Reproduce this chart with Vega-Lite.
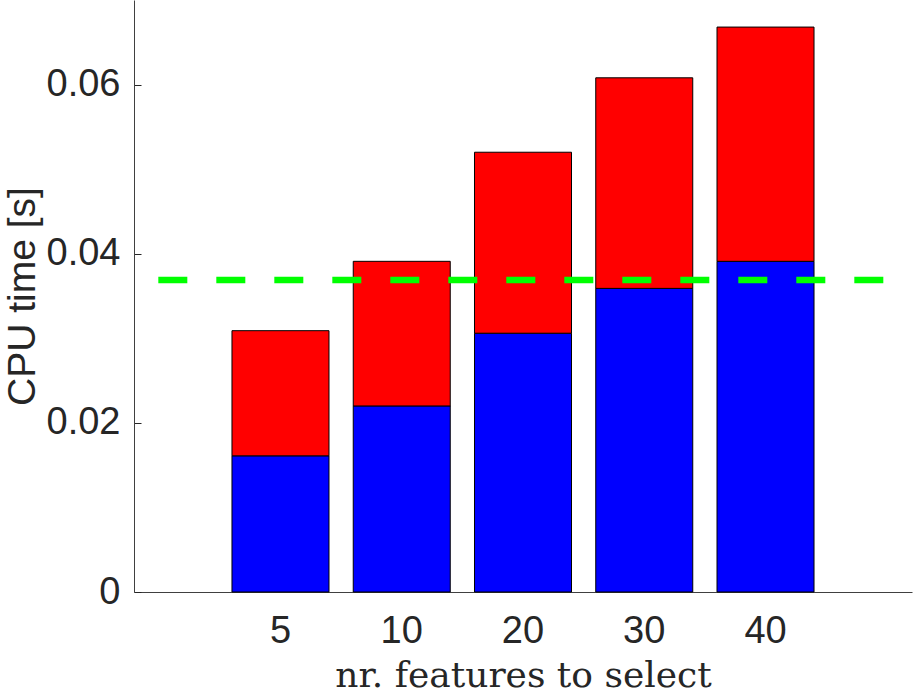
{
  "$schema": "https://vega.github.io/schema/vega-lite/v6.json",
  "width": 778,
  "height": 592,
  "autosize": {"type": "none"},
  "padding": {"left": 134, "top": 0, "right": 1, "bottom": 99},
  "background": "white",
  "config": {
    "view": {"stroke": null},
    "font": "Liberation Sans"
  },
  "layer": [
    {
      "data": {
        "values": [
          {"n": "5", "part": "a", "t": 0.0161},
          {"n": "5", "part": "b", "t": 0.0148},
          {"n": "10", "part": "a", "t": 0.0220},
          {"n": "10", "part": "b", "t": 0.0171},
          {"n": "20", "part": "a", "t": 0.0306},
          {"n": "20", "part": "b", "t": 0.0214},
          {"n": "30", "part": "a", "t": 0.0359},
          {"n": "30", "part": "b", "t": 0.0249},
          {"n": "40", "part": "a", "t": 0.0391},
          {"n": "40", "part": "b", "t": 0.0277}
        ]
      },
      "mark": {"type": "bar", "stroke": "black", "strokeWidth": 1},
      "encoding": {
        "x": {
          "field": "n",
          "type": "ordinal",
          "sort": ["5", "10", "20", "30", "40"],
          "scale": {"paddingInner": 0.2, "paddingOuter": 0.808},
          "axis": {
            "title": "nr. features to select",
            "titleFont": "DejaVu Serif",
            "titleFontSize": 36,
            "titleFontWeight": "normal",
            "titleColor": "#262626",
            "titleBaseline": "alphabetic",
            "titleY": 94,
            "labelAngle": 0,
            "labelFontSize": 38,
            "labelColor": "#262626",
            "labelBaseline": "alphabetic",
            "labelPadding": 50,
            "ticks": false,
            "domainColor": "#404040",
            "domainWidth": 1
          }
        },
        "y": {
          "field": "t",
          "type": "quantitative",
          "stack": "zero",
          "scale": {"domain": [0, 0.07], "nice": false},
          "axis": {
            "title": "CPU time [s]",
            "values": [0, 0.02, 0.04, 0.06],
            "labelExpr": "datum.value == 0 ? '0' : format(datum.value, '.2f')",
            "grid": false,
            "labelFontSize": 38,
            "labelColor": "#262626",
            "tickSize": -7,
            "tickColor": "#262626",
            "labelPadding": 21,
            "domainColor": "#404040",
            "domainWidth": 1,
            "titleFontSize": 39,
            "titleFontWeight": "normal",
            "titleColor": "#262626",
            "titleBaseline": "alphabetic",
            "titleX": -100,
            "titleY": 296,
            "titleAngle": -90
          }
        },
        "color": {
          "field": "part",
          "type": "nominal",
          "scale": {"domain": ["a", "b"], "range": ["#0000ff", "#ff0000"]},
          "legend": null
        },
        "order": {"field": "part"}
      }
    },
    {
      "data": {"values": [{"x0": 0, "x1": 6, "t": 0.0369}]},
      "mark": {"type": "rule", "color": "#00ff00", "strokeWidth": 6.5, "strokeDash": [29, 29]},
      "encoding": {
        "x": {"field": "x0", "type": "quantitative", "scale": {"domain": [-0.2, 6.2], "nice": false, "zero": false}, "axis": null},
        "x2": {"field": "x1"},
        "y": {"field": "t", "type": "quantitative", "title": "CPU time [s]"}
      }
    }
  ],
  "resolve": {"scale": {"x": "independent"}, "axis": {"x": "independent"}}
}
